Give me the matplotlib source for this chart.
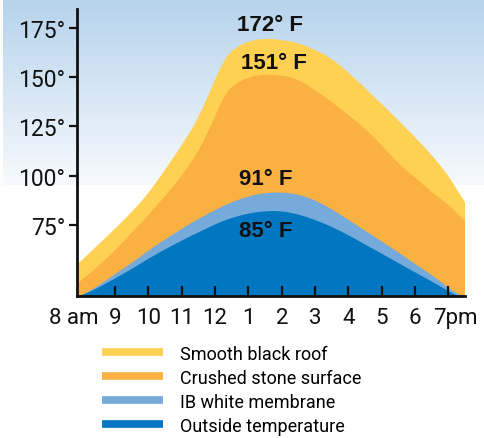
import numpy as np
import matplotlib.pyplot as plt
import matplotlib.transforms as mtransforms
from matplotlib.lines import Line2D
from matplotlib.path import Path
from matplotlib.patches import PathPatch

# hours of the day (8 = 8 am, 19 = 7 pm)
hours = [7.87, 8, 8.5, 9, 9.5, 10, 10.5, 11, 11.5, 12, 12.25, 12.5, 13, 13.5,
         14, 14.5, 15, 15.5, 16, 16.5, 17, 17.5, 18, 18.5, 19, 19.25, 19.5]

# surface temperatures (deg F)
black_roof = [55, 57, 65, 73, 81.5, 91, 103, 115.5, 129, 149, 158, 164, 168.5, 169.8,
              169, 167.5, 164, 159.5, 152.5, 144.5, 136.4, 128, 119.5, 110.5, 100, 93, 86.4]
crushed_stone = [45, 47, 54, 62, 71, 80, 89.5, 100, 112, 130, 140, 145.5, 150.3, 151.5,
                 151, 149, 143.5, 137.5, 130.8, 124, 115.5, 106, 99, 91.5, 85.3, 81, 77]
white_membrane = [38.9, 39, 44, 50, 55.5, 62, 67.5, 73, 78, 82.5, 84.6, 86.5, 89.5, 91.3,
                  91.5, 90.5, 87.5, 83, 77.5, 72, 66.5, 61, 55, 49.5, 43, 40, 38.9]
outside_temp = [38.9, 39, 43, 47.7, 52.5, 57.8, 62.5, 67, 71.2, 75.2, 77, 78.5, 80.8, 82,
                82, 80.3, 77.5, 74, 69.7, 65, 60.3, 55.5, 50.8, 46.2, 41.2, 38.9, 38.9]

series_names = ['Smooth black roof', 'Crushed stone surface',
                'IB white membrane', 'Outside temperature']
colors = ['#FFD152', '#FBB042', '#76AADB', '#0077C0']

peak_labels = ['172\u00b0 F', '151\u00b0 F', '91\u00b0 F', '85\u00b0 F']
peak_pos = [(13.65, 177), (13.77, 157.5), (13.53, 98.3), (13.53, 72.1)]

x_ticks = [8, 9, 10, 11, 12, 13, 14, 15, 16, 17, 18, 19]
x_labels = ['8 am', '9', '10', '11', '12', '1', '2', '3', '4', '5', '6', '7pm']
y_ticks = [75, 100, 125, 150, 175]
y_labels = ['75\u00b0', '100\u00b0', '125\u00b0', '150\u00b0', '175\u00b0']

narrow = ['Roboto', 'DejaVu Sans']
bold = ['Liberation Sans', 'DejaVu Sans']
base = 38.9


def smooth_area(xs, ys, base):
    # closed area under a curve, rounded with quadratic beziers between midpoints
    verts = [(xs[0], base), (xs[0], ys[0])]
    codes = [Path.MOVETO, Path.LINETO]
    mids = [((xs[i] + xs[i + 1]) / 2, (ys[i] + ys[i + 1]) / 2) for i in range(len(xs) - 1)]
    verts.append(mids[0])
    codes.append(Path.LINETO)
    for i in range(1, len(xs) - 1):
        verts += [(xs[i], ys[i]), mids[i]]
        codes += [Path.CURVE3, Path.CURVE3]
    verts += [(xs[-1], ys[-1]), (xs[-1], base), (xs[0], base)]
    codes += [Path.LINETO, Path.LINETO, Path.CLOSEPOLY]
    return Path(verts, codes)


fig = plt.figure(figsize=(4.84, 4.39), dpi=100)

# sky gradient behind the chart
bg = fig.add_axes([0, 0, 1, 1], zorder=-1)
bg.set_xlim(0, 484)
bg.set_ylim(439, 0)
bg.axis('off')
top = np.array([182, 211, 236]) / 255
bottom = np.array([247, 250, 253]) / 255
t = np.linspace(0, 1, 200)[:, None]
grad = top + (bottom - top) * t
bg.imshow(grad[:, None, :], extent=[3, 484, 186, 0], aspect='auto')

ax = fig.add_axes([0.160, 0.324, 0.801, 0.653])
ax.set_facecolor('none')
series = [black_roof, crushed_stone, white_membrane, outside_temp]
for vals, c in zip(series, colors):
    ax.add_patch(PathPatch(smooth_area(hours, vals, base), facecolor=c,
                           edgecolor='none', linewidth=0))

for txt, (px, py) in zip(peak_labels, peak_pos):
    ax.text(px, py, txt, ha='center', va='center', fontsize=16,
            fontweight='bold', family=bold, color='#111111')

ax.set_xlim(7.87, 19.5)
ax.set_ylim(base, 184.7)
for s in ['top', 'right']:
    ax.spines[s].set_visible(False)
for s in ['left', 'bottom']:
    ax.spines[s].set_linewidth(2)
    ax.spines[s].set_color('#111111')

ax.set_xticks(x_ticks)
ax.set_xticklabels(x_labels, family=narrow, fontsize=16)
ax.set_yticks(y_ticks)
ax.set_yticklabels(y_labels, family=narrow, fontsize=16.5)
ax.tick_params(axis='x', direction='in', length=7, width=1.6, pad=8, colors='#111111')
ax.tick_params(axis='y', direction='out', length=6, width=1.6, pad=3, colors='#111111')
ax.xaxis.get_major_ticks()[0].tick1line.set_visible(False)

labs = ax.get_xticklabels()
labs[0].set_transform(labs[0].get_transform() +
                      mtransforms.ScaledTranslation(-8 / 100, 0, fig.dpi_scale_trans))
labs[-1].set_transform(labs[-1].get_transform() +
                       mtransforms.ScaledTranslation(7 / 100, 0, fig.dpi_scale_trans))

handles = [Line2D([], [], color=c, linewidth=5.5, solid_capstyle='butt') for c in colors]
leg = fig.legend(handles, series_names, loc='upper left',
                 bbox_to_anchor=(0.195, 0.229), frameon=False,
                 prop={'family': narrow, 'size': 13}, handlelength=3.4,
                 handletextpad=0.95, labelspacing=0.33, borderaxespad=0)

fig.savefig('out.png', dpi=100)
